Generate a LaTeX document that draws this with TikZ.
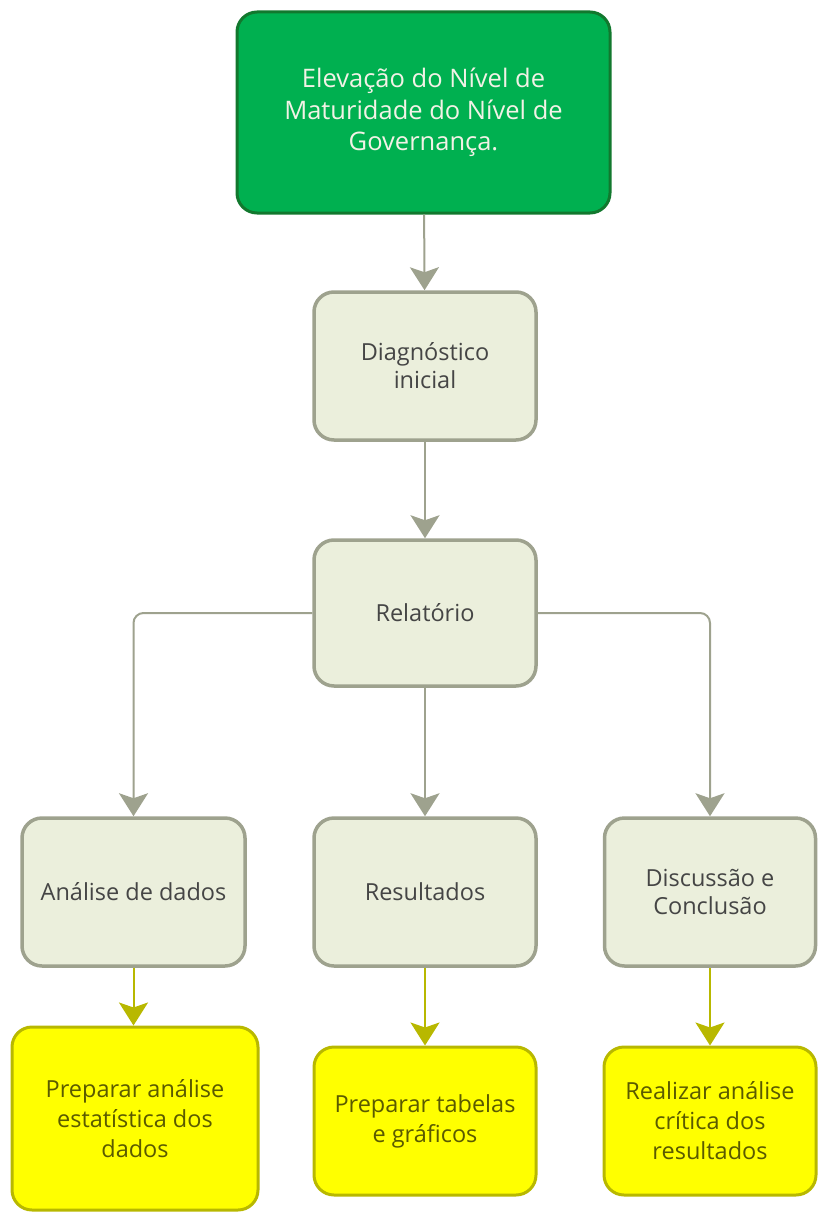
\documentclass[tikz,border=0pt]{standalone}
\usepackage{fontspec}
\setmainfont{Open Sans}
\usetikzlibrary{arrows.meta}
\definecolor{gfill}{HTML}{00B050}
\definecolor{gdraw}{HTML}{12782E}
\definecolor{pfill}{HTML}{EBEFDC}
\definecolor{pdraw}{HTML}{9EA28E}
\definecolor{yfill}{HTML}{FFFF00}
\definecolor{ydraw}{HTML}{B8B800}
\definecolor{ytext}{HTML}{5A5A00}
\definecolor{ptext}{HTML}{454545}
\definecolor{gtext}{HTML}{F2F2E6}
\tikzset{
  box/.style={rounded corners=20pt, align=center, inner sep=0pt,
    font=\fontsize{23.5}{30}\selectfont},
  greenbox/.style={box, fill=gfill, draw=gdraw, line width=3pt, text=gtext,
    font=\fontsize{25.5}{31.5}\selectfont},
  palebox/.style={box, fill=pfill, draw=pdraw, line width=3.5pt, text=ptext},
  yellowbox/.style={box, fill=yfill, draw=ydraw, line width=3pt, text=ytext},
  garrow/.style={draw=pdraw, line width=2pt,
    -{Stealth[length=23pt,width=29pt,inset=5pt,fill=pdraw]}},
  yarrow/.style={draw=ydraw, line width=2pt,
    -{Stealth[length=23pt,width=29pt,inset=5pt,fill=ydraw]}},
}
\begin{document}
\begin{tikzpicture}[x=1pt,y=-1pt]
\useasboundingbox (0,0) rectangle (817,1212);
\node[greenbox, minimum width=373pt, minimum height=201pt] (top) at (423.5,112.5)
  {Elevação do Nível de\\Maturidade do Nível de\\Governança.};
\node[palebox, minimum width=222pt, minimum height=148pt, font=\fontsize{23.5}{28}\selectfont] (diag) at (425,366)
  {Diagnóstico\\inicial};
\node[palebox, minimum width=222pt, minimum height=146pt] (rel) at (425,613)
  {Relatório};
\node[palebox, minimum width=223pt, minimum height=148pt] (ana) at (133.5,892)
  {Análise de dados};
\node[palebox, minimum width=222pt, minimum height=148pt] (res) at (425,892)
  {Resultados};
\node[palebox, minimum width=211pt, minimum height=148pt, font=\fontsize{23.5}{28}\selectfont] (dis) at (710,892)
  {Discussão e\\Conclusão};
\node[yellowbox, minimum width=246pt, minimum height=183pt] (y1) at (135,1118.5)
  {Preparar análise\\estatística dos\\dados};
\node[yellowbox, minimum width=222pt, minimum height=148pt] (y2) at (425,1121)
  {Preparar tabelas\\e gráficos};
\node[yellowbox, minimum width=212pt, minimum height=148pt] (y3) at (710,1121)
  {Realizar análise\\crítica dos\\resultados};

\draw[garrow] (top) -- (diag);
\draw[garrow] (diag) -- (rel);
\draw[garrow] (rel) -- (res);
\draw[garrow, rounded corners=10pt] (rel.west) -| (ana.north);
\draw[garrow, rounded corners=10pt] (rel.east) -| (dis.north);
\draw[yarrow] (ana.south) -- (ana.south |- y1.north);
\draw[yarrow] (res) -- (y2);
\draw[yarrow] (dis) -- (y3);
\end{tikzpicture}
\end{document}
